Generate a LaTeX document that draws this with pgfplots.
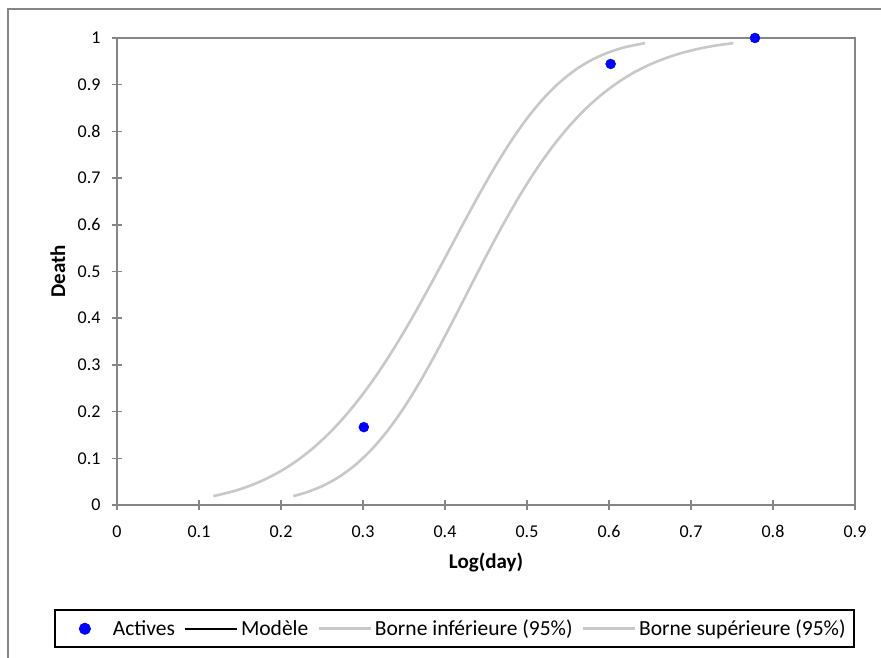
\documentclass[border=0pt]{standalone}
\usepackage{fontspec}
\setmainfont{Carlito}
\usepackage{pgfplots}
\pgfplotsset{compat=1.18}
\definecolor{axisgray}{RGB}{134,134,134}
\definecolor{bandgray}{RGB}{200,200,200}
\definecolor{dotblue}{RGB}{0,0,255}

\begin{document}
\begin{tikzpicture}[x=1pt,y=1pt]
\useasboundingbox (0,0) rectangle (881,658);
% chart border (cut off at right and bottom)
\draw[axisgray, line width=1.5pt] (8,0) -- (8,649) -- (881,649);
\begin{axis}[
    at={(117pt,153pt)}, anchor=south west,
    width=738pt, height=467pt, scale only axis,
    xmin=0, xmax=0.9, ymin=0, ymax=1,
    xtick={0,0.1,0.2,0.3,0.4,0.5,0.6,0.7,0.8,0.9},
    ytick={0,0.1,0.2,0.3,0.4,0.5,0.6,0.7,0.8,0.9,1},
    xtick pos=bottom, ytick pos=left,
    tick align=center, major tick length=10pt,
    axis line style={axisgray, line width=1.5pt},
    tick style={axisgray, line width=1.5pt},
    /pgf/number format/assume math mode=true,
    tick label style={font=\fontsize{18}{21}\selectfont, black},
    yticklabel style={xshift=-8pt},
    xticklabel style={yshift=-12pt},
    xlabel={Log(day)}, ylabel={Death},
    label style={font=\fontsize{21}{24}\selectfont\bfseries},
    xlabel style={at={(axis description cs:0.5,-0.124)}, anchor=center},
    ylabel style={at={(axis description cs:-0.080,0.5)}, anchor=center},
    legend columns=4,
    legend style={at={(axis description cs:0.457,-0.265)}, anchor=center,
        draw=black, line width=2pt, font=\fontsize{21.5}{24}\selectfont,
        inner xsep=5pt, inner ysep=8pt,
        nodes={inner xsep=3pt},
        /tikz/every even column/.append style={column sep=6pt}},
    legend image code/.code={\draw[#1] (0pt,0pt) -- (52pt,0pt);},
    clip=false,
]
\addplot[only marks, mark=*, mark size=5pt, dotblue,
    legend image code/.code={\path[draw=none] (0pt,0pt) -- (50pt,0pt);
        \fill[dotblue] (25pt,0pt) circle[radius=5pt];}]
    coordinates {(0.301,0.1667) (0.602,0.9444) (0.778,1.0)};
\addlegendentry{Actives}
\addlegendimage{black, line width=2pt}
\addlegendentry{Modèle}
% lower bound
\addplot[bandgray, line width=2.6pt, smooth] coordinates {
    (0.215,0.019) (0.23,0.0265) (0.25,0.0402) (0.27,0.0593)
    (0.29,0.0849) (0.31,0.118) (0.33,0.1592) (0.35,0.2085)
    (0.37,0.2654) (0.39,0.3284) (0.41,0.3954) (0.43,0.4642)
    (0.45,0.5324) (0.47,0.598) (0.49,0.6592) (0.51,0.715)
    (0.53,0.7647) (0.55,0.8082) (0.57,0.8457) (0.59,0.8773)
    (0.61,0.9038) (0.63,0.9257) (0.65,0.9433) (0.67,0.9574)
    (0.69,0.9686) (0.71,0.9772) (0.73,0.9838) (0.7516,0.989)};
\addlegendentry{Borne inférieure (95\%)}
% upper bound
\addplot[bandgray, line width=2.6pt, smooth] coordinates {
    (0.1175,0.019) (0.14,0.0285) (0.16,0.0398) (0.18,0.0545)
    (0.20,0.0729) (0.22,0.0956) (0.24,0.1232) (0.26,0.1559)
    (0.28,0.1941) (0.30,0.2379) (0.32,0.2871) (0.34,0.3418)
    (0.36,0.401) (0.38,0.464) (0.40,0.5292) (0.42,0.5951)
    (0.44,0.6597) (0.46,0.7213) (0.48,0.7777) (0.50,0.8277)
    (0.52,0.8703) (0.54,0.9053) (0.56,0.933) (0.58,0.9541)
    (0.60,0.9695) (0.62,0.9805) (0.6439,0.989)};
\addlegendentry{Borne supérieure (95\%)}
\end{axis}
\end{tikzpicture}
\end{document}
